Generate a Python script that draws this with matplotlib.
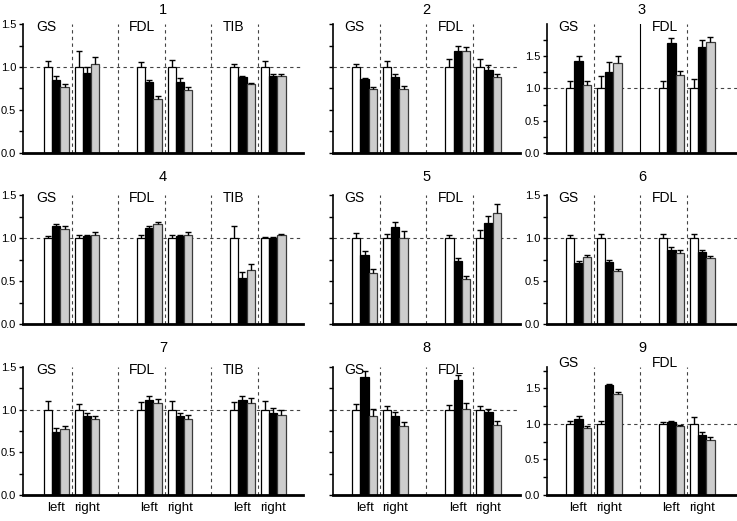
import matplotlib.pyplot as plt
import numpy as np

plt.rcParams['font.family'] = ['Liberation Sans', 'DejaVu Sans']

# muscles in each panel, sides, bar order: white / black / gray
muscles_3 = ["GS", "FDL", "TIB"]
muscles_2 = ["GS", "FDL"]
sides = ["left", "right"]
panel_names = ["1", "2", "3", "4", "5", "6", "7", "8", "9"]

# rows: GS-left, GS-right, FDL-left, FDL-right, (TIB-left, TIB-right)
means_1 = [[1.0, 0.85, 0.77], [1.0, 0.93, 1.03], [1.0, 0.82, 0.63],
           [1.0, 0.83, 0.73], [1.0, 0.88, 0.80], [1.0, 0.89, 0.89]]
errs_1 = [[0.07, 0.05, 0.035], [0.19, 0.07, 0.09], [0.06, 0.03, 0.03],
          [0.085, 0.04, 0.04], [0.035, 0.01, 0.01], [0.065, 0.03, 0.03]]

means_2 = [[1.0, 0.86, 0.74], [1.0, 0.88, 0.74], [1.0, 1.19, 1.19], [1.0, 0.97, 0.88]]
errs_2 = [[0.04, 0.015, 0.025], [0.065, 0.035, 0.04], [0.095, 0.055, 0.045], [0.09, 0.055, 0.04]]

means_3 = [[1.0, 1.43, 1.05], [1.0, 1.25, 1.39], [1.0, 1.70, 1.21], [1.0, 1.64, 1.72]]
errs_3 = [[0.12, 0.075, 0.065], [0.19, 0.16, 0.11], [0.12, 0.08, 0.065], [0.15, 0.11, 0.085]]

means_4 = [[1.0, 1.14, 1.11], [1.0, 1.02, 1.04], [1.0, 1.12, 1.16],
           [1.0, 1.02, 1.04], [1.0, 0.54, 0.63], [1.0, 1.0, 1.04]]
errs_4 = [[0.02, 0.02, 0.03], [0.035, 0.02, 0.03], [0.03, 0.02, 0.03],
          [0.03, 0.015, 0.03], [0.14, 0.06, 0.07], [0.01, 0.01, 0.01]]

means_5 = [[1.0, 0.80, 0.59], [1.0, 1.13, 1.0], [1.0, 0.73, 0.52], [1.0, 1.17, 1.29]]
errs_5 = [[0.06, 0.05, 0.05], [0.045, 0.06, 0.08], [0.04, 0.04, 0.035], [0.09, 0.085, 0.1]]

means_6 = [[1.0, 0.71, 0.78], [1.0, 0.72, 0.62], [1.0, 0.86, 0.83], [1.0, 0.84, 0.77]]
errs_6 = [[0.04, 0.02, 0.025], [0.045, 0.02, 0.02], [0.05, 0.03, 0.03], [0.045, 0.02, 0.025]]

means_7 = [[1.0, 0.74, 0.77], [1.0, 0.93, 0.89], [1.0, 1.11, 1.08],
           [1.0, 0.92, 0.89], [1.0, 1.11, 1.08], [1.0, 0.965, 0.94]]
errs_7 = [[0.10, 0.04, 0.04], [0.065, 0.035, 0.035], [0.09, 0.045, 0.05],
          [0.10, 0.04, 0.05], [0.09, 0.045, 0.055], [0.10, 0.055, 0.055]]

means_8 = [[1.0, 1.38, 0.93], [1.0, 0.93, 0.81], [1.0, 1.35, 1.01], [1.0, 0.97, 0.82]]
errs_8 = [[0.07, 0.07, 0.075], [0.04, 0.045, 0.05], [0.06, 0.06, 0.065], [0.04, 0.04, 0.05]]

means_9 = [[1.0, 1.075, 0.945], [1.0, 1.545, 1.42], [1.0, 1.03, 0.97], [1.0, 0.85, 0.78]]
errs_9 = [[0.04, 0.035, 0.025], [0.045, 0.02, 0.025], [0.02, 0.01, 0.02], [0.10, 0.03, 0.03]]

panel_means = [means_1, means_2, means_3, means_4, means_5, means_6, means_7, means_8, means_9]
panel_errs = [errs_1, errs_2, errs_3, errs_4, errs_5, errs_6, errs_7, errs_8, errs_9]

# layout (pixels in a 737 x 521 figure)
W, H = 737, 521
col_x = [(23, 303), (333, 520), (547, 737)]
row_y = [(24, 153), (195, 324), (367, 495)]
title_y = [10, 177, 348]
xlims = [(-0.2, 33.5), (0, 22.5), (0, 22.9)]
ymax = {2: 2.0, 8: 1.8}
label_y = {8: 1.03}
SEC = 11.2
bar_colors = ["white", "black", "#cdcdcd"]
edge_colors = ["black", "black", "#3a3a3a"]
dash = (0, (3, 3))

fig = plt.figure(figsize=(W / 100, H / 100), dpi=100)

for i in range(9):
    r, c = divmod(i, 3)
    x0, x1 = col_x[c]
    ytop, ybot = row_y[r]
    ax = fig.add_axes([x0 / W, 1 - ybot / H, (x1 - x0) / W, (ybot - ytop) / H])
    muscles = muscles_3 if c == 0 else muscles_2
    means = np.array(panel_means[i])
    errs = np.array(panel_errs[i])
    top = ymax.get(i, 1.5)

    ax.axhline(1.0, color="#444444", lw=0.8, ls=dash, zorder=0.5)
    xt, xl = [], []
    for s, m in enumerate(muscles):
        base = s * SEC
        if s > 0:
            if i == 2:
                ax.axvline(base, color="black", lw=0.8, zorder=0.5)
            else:
                ax.axvline(base, color="#444444", lw=0.8, ls=dash, zorder=0.5)
        ax.axvline(base + 5.65, color="#444444", lw=0.8, ls=dash, zorder=0.5)
        ax.text(base + 1.4, label_y.get(i, 0.975), m, fontsize=10, ha="left", va="center",
                transform=ax.get_xaxis_transform())
        for k, side in enumerate(sides):
            row = 2 * s + k
            start = base + (2.8 if k == 0 else 6.5)
            xs = start + np.arange(3)
            for b in range(3):
                ax.bar(xs[b], means[row, b], width=1.0, color=bar_colors[b],
                       edgecolor=edge_colors[b], linewidth=0.9, zorder=2)
            ax.vlines(xs, means[row], means[row] + errs[row], color="black", lw=1, zorder=3)
            ax.plot(xs, means[row] + errs[row], ls="none", marker="_", ms=4.5,
                    mew=1, color="black", zorder=3)
            xt.append(start + 1)
            xl.append(side)

    ax.set_xlim(*xlims[c])
    ax.set_ylim(0, top)
    for sp in ["top", "right"]:
        ax.spines[sp].set_visible(False)
    ax.spines["left"].set_linewidth(1.2)
    ax.spines["bottom"].set_linewidth(2)

    ax.set_yticks([0, 0.5, 1.0, 1.5])
    ax.set_yticks([v for v in [0.25, 0.75, 1.25, 1.75] if v < top], minor=True)
    ax.tick_params(axis="y", which="both", direction="out", length=3, width=1,
                   labelsize=8, pad=2)
    if c == 1:
        ax.set_yticklabels([])
    else:
        ax.set_yticklabels(["0.0", "0.5", "1.0", "1.5"])

    if r == 2:
        ax.set_xticks(xt)
        ax.set_xticklabels(xl, fontsize=9.5)
        ax.tick_params(axis="x", length=0, pad=5)
    else:
        ax.set_xticks([])

    fig.text((x0 + x1) / 2 / W, 1 - title_y[r] / H, panel_names[i], fontsize=10.5,
             ha="center", va="center")

fig.savefig("out.png", dpi=100)
